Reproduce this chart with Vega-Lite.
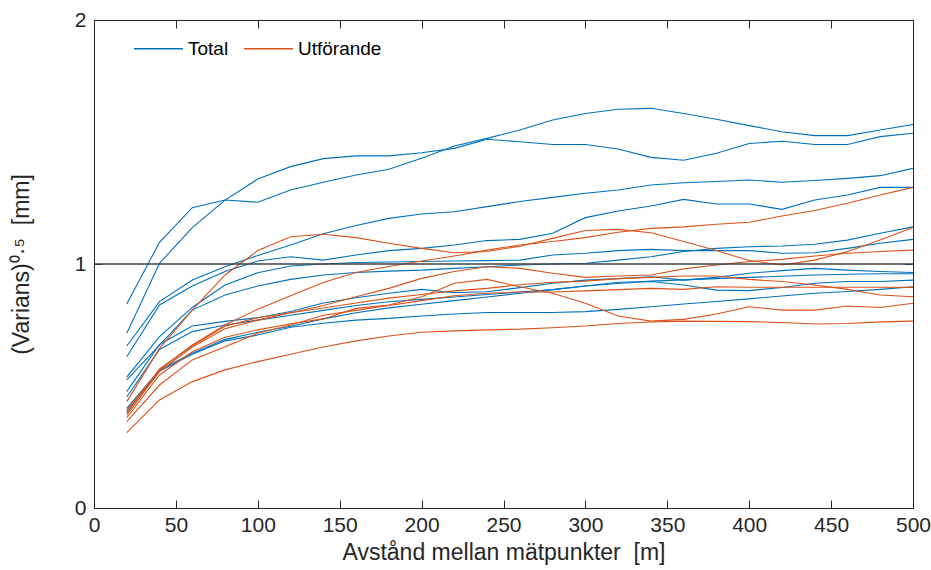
{
"$schema":"https://vega.github.io/schema/vega-lite/v6.json",
"autosize":{"type":"none"},
"width":819,"height":488,
"padding":{"left":94,"top":20,"right":18,"bottom":62},
"config":{"view":{"stroke":"#262626","strokeWidth":1},"font":"Liberation Sans",
 "axis":{"domain":false,"grid":false,"tickColor":"#262626","tickSize":-8,"tickWidth":1,"labelColor":"#262626","titleColor":"#262626","labelFont":"Liberation Sans","titleFont":"Liberation Sans","labelFontSize":21,"titleFontSize":23,"titleFontWeight":"normal","labelOverlap":false,"labelFlush":false}},
"datasets":{"pts":[
{"s":"A","g":"Total","x":20,"y":0.836},{"s":"A","g":"Total","x":40,"y":1.089},{"s":"A","g":"Total","x":60,"y":1.231},{"s":"A","g":"Total","x":80,"y":1.262},{"s":"A","g":"Total","x":100,"y":1.253},{"s":"A","g":"Total","x":120,"y":1.303},{"s":"A","g":"Total","x":140,"y":1.335},{"s":"A","g":"Total","x":160,"y":1.365},{"s":"A","g":"Total","x":180,"y":1.388},{"s":"A","g":"Total","x":200,"y":1.433},{"s":"A","g":"Total","x":220,"y":1.484},{"s":"A","g":"Total","x":240,"y":1.515},{"s":"A","g":"Total","x":260,"y":1.549},{"s":"A","g":"Total","x":280,"y":1.59},{"s":"A","g":"Total","x":300,"y":1.617},{"s":"A","g":"Total","x":320,"y":1.634},{"s":"A","g":"Total","x":340,"y":1.638},{"s":"A","g":"Total","x":360,"y":1.617},{"s":"A","g":"Total","x":380,"y":1.593},{"s":"A","g":"Total","x":400,"y":1.567},{"s":"A","g":"Total","x":420,"y":1.542},{"s":"A","g":"Total","x":440,"y":1.526},{"s":"A","g":"Total","x":460,"y":1.526},{"s":"A","g":"Total","x":480,"y":1.549},{"s":"A","g":"Total","x":500,"y":1.572},
{"s":"B","g":"Total","x":20,"y":0.716},{"s":"B","g":"Total","x":40,"y":1.003},{"s":"B","g":"Total","x":60,"y":1.149},{"s":"B","g":"Total","x":80,"y":1.262},{"s":"B","g":"Total","x":100,"y":1.348},{"s":"B","g":"Total","x":120,"y":1.399},{"s":"B","g":"Total","x":140,"y":1.432},{"s":"B","g":"Total","x":160,"y":1.443},{"s":"B","g":"Total","x":180,"y":1.443},{"s":"B","g":"Total","x":200,"y":1.456},{"s":"B","g":"Total","x":220,"y":1.474},{"s":"B","g":"Total","x":240,"y":1.511},{"s":"B","g":"Total","x":260,"y":1.501},{"s":"B","g":"Total","x":280,"y":1.49},{"s":"B","g":"Total","x":300,"y":1.49},{"s":"B","g":"Total","x":320,"y":1.471},{"s":"B","g":"Total","x":340,"y":1.437},{"s":"B","g":"Total","x":360,"y":1.425},{"s":"B","g":"Total","x":380,"y":1.454},{"s":"B","g":"Total","x":400,"y":1.494},{"s":"B","g":"Total","x":420,"y":1.503},{"s":"B","g":"Total","x":440,"y":1.49},{"s":"B","g":"Total","x":460,"y":1.49},{"s":"B","g":"Total","x":480,"y":1.522},{"s":"B","g":"Total","x":500,"y":1.536},
{"s":"C","g":"Total","x":20,"y":0.664},{"s":"C","g":"Total","x":40,"y":0.846},{"s":"C","g":"Total","x":60,"y":0.934},{"s":"C","g":"Total","x":80,"y":0.989},{"s":"C","g":"Total","x":100,"y":1.035},{"s":"C","g":"Total","x":120,"y":1.078},{"s":"C","g":"Total","x":140,"y":1.124},{"s":"C","g":"Total","x":160,"y":1.158},{"s":"C","g":"Total","x":180,"y":1.187},{"s":"C","g":"Total","x":200,"y":1.205},{"s":"C","g":"Total","x":220,"y":1.214},{"s":"C","g":"Total","x":240,"y":1.235},{"s":"C","g":"Total","x":260,"y":1.256},{"s":"C","g":"Total","x":280,"y":1.273},{"s":"C","g":"Total","x":300,"y":1.29},{"s":"C","g":"Total","x":320,"y":1.303},{"s":"C","g":"Total","x":340,"y":1.324},{"s":"C","g":"Total","x":360,"y":1.333},{"s":"C","g":"Total","x":380,"y":1.338},{"s":"C","g":"Total","x":400,"y":1.344},{"s":"C","g":"Total","x":420,"y":1.335},{"s":"C","g":"Total","x":440,"y":1.342},{"s":"C","g":"Total","x":460,"y":1.351},{"s":"C","g":"Total","x":480,"y":1.362},{"s":"C","g":"Total","x":500,"y":1.392},
{"s":"D","g":"Total","x":20,"y":0.62},{"s":"D","g":"Total","x":40,"y":0.832},{"s":"D","g":"Total","x":60,"y":0.91},{"s":"D","g":"Total","x":80,"y":0.969},{"s":"D","g":"Total","x":100,"y":1.012},{"s":"D","g":"Total","x":120,"y":1.03},{"s":"D","g":"Total","x":140,"y":1.016},{"s":"D","g":"Total","x":160,"y":1.037},{"s":"D","g":"Total","x":180,"y":1.055},{"s":"D","g":"Total","x":200,"y":1.064},{"s":"D","g":"Total","x":220,"y":1.078},{"s":"D","g":"Total","x":240,"y":1.096},{"s":"D","g":"Total","x":260,"y":1.101},{"s":"D","g":"Total","x":280,"y":1.126},{"s":"D","g":"Total","x":300,"y":1.19},{"s":"D","g":"Total","x":320,"y":1.217},{"s":"D","g":"Total","x":340,"y":1.238},{"s":"D","g":"Total","x":360,"y":1.265},{"s":"D","g":"Total","x":380,"y":1.246},{"s":"D","g":"Total","x":400,"y":1.246},{"s":"D","g":"Total","x":420,"y":1.224},{"s":"D","g":"Total","x":440,"y":1.262},{"s":"D","g":"Total","x":460,"y":1.283},{"s":"D","g":"Total","x":480,"y":1.314},{"s":"D","g":"Total","x":500,"y":1.314},
{"s":"F","g":"Total","x":20,"y":0.536},{"s":"F","g":"Total","x":40,"y":0.702},{"s":"F","g":"Total","x":60,"y":0.822},{"s":"F","g":"Total","x":80,"y":0.914},{"s":"F","g":"Total","x":100,"y":0.964},{"s":"F","g":"Total","x":120,"y":0.992},{"s":"F","g":"Total","x":140,"y":1.0},{"s":"F","g":"Total","x":160,"y":1.006},{"s":"F","g":"Total","x":180,"y":1.008},{"s":"F","g":"Total","x":200,"y":1.01},{"s":"F","g":"Total","x":220,"y":1.012},{"s":"F","g":"Total","x":240,"y":1.014},{"s":"F","g":"Total","x":260,"y":1.016},{"s":"F","g":"Total","x":280,"y":1.037},{"s":"F","g":"Total","x":300,"y":1.044},{"s":"F","g":"Total","x":320,"y":1.055},{"s":"F","g":"Total","x":340,"y":1.06},{"s":"F","g":"Total","x":360,"y":1.055},{"s":"F","g":"Total","x":380,"y":1.055},{"s":"F","g":"Total","x":400,"y":1.055},{"s":"F","g":"Total","x":420,"y":1.044},{"s":"F","g":"Total","x":440,"y":1.046},{"s":"F","g":"Total","x":460,"y":1.064},{"s":"F","g":"Total","x":480,"y":1.085},{"s":"F","g":"Total","x":500,"y":1.101},
{"s":"G","g":"Total","x":20,"y":0.525},{"s":"G","g":"Total","x":40,"y":0.668},{"s":"G","g":"Total","x":60,"y":0.811},{"s":"G","g":"Total","x":80,"y":0.873},{"s":"G","g":"Total","x":100,"y":0.91},{"s":"G","g":"Total","x":120,"y":0.937},{"s":"G","g":"Total","x":140,"y":0.955},{"s":"G","g":"Total","x":160,"y":0.965},{"s":"G","g":"Total","x":180,"y":0.971},{"s":"G","g":"Total","x":200,"y":0.975},{"s":"G","g":"Total","x":220,"y":0.982},{"s":"G","g":"Total","x":240,"y":0.989},{"s":"G","g":"Total","x":260,"y":0.996},{"s":"G","g":"Total","x":280,"y":1.0},{"s":"G","g":"Total","x":300,"y":1.003},{"s":"G","g":"Total","x":320,"y":1.016},{"s":"G","g":"Total","x":340,"y":1.03},{"s":"G","g":"Total","x":360,"y":1.051},{"s":"G","g":"Total","x":380,"y":1.064},{"s":"G","g":"Total","x":400,"y":1.071},{"s":"G","g":"Total","x":420,"y":1.074},{"s":"G","g":"Total","x":440,"y":1.081},{"s":"G","g":"Total","x":460,"y":1.098},{"s":"G","g":"Total","x":480,"y":1.126},{"s":"G","g":"Total","x":500,"y":1.152},
{"s":"I","g":"Total","x":20,"y":0.477},{"s":"I","g":"Total","x":40,"y":0.67},{"s":"I","g":"Total","x":60,"y":0.746},{"s":"I","g":"Total","x":80,"y":0.765},{"s":"I","g":"Total","x":100,"y":0.78},{"s":"I","g":"Total","x":120,"y":0.805},{"s":"I","g":"Total","x":140,"y":0.84},{"s":"I","g":"Total","x":160,"y":0.862},{"s":"I","g":"Total","x":180,"y":0.88},{"s":"I","g":"Total","x":200,"y":0.896},{"s":"I","g":"Total","x":220,"y":0.882},{"s":"I","g":"Total","x":240,"y":0.886},{"s":"I","g":"Total","x":260,"y":0.903},{"s":"I","g":"Total","x":280,"y":0.921},{"s":"I","g":"Total","x":300,"y":0.934},{"s":"I","g":"Total","x":320,"y":0.94},{"s":"I","g":"Total","x":340,"y":0.948},{"s":"I","g":"Total","x":360,"y":0.934},{"s":"I","g":"Total","x":380,"y":0.945},{"s":"I","g":"Total","x":400,"y":0.962},{"s":"I","g":"Total","x":420,"y":0.973},{"s":"I","g":"Total","x":440,"y":0.982},{"s":"I","g":"Total","x":460,"y":0.975},{"s":"I","g":"Total","x":480,"y":0.969},{"s":"I","g":"Total","x":500,"y":0.965},
{"s":"J","g":"Total","x":20,"y":0.455},{"s":"J","g":"Total","x":40,"y":0.65},{"s":"J","g":"Total","x":60,"y":0.723},{"s":"J","g":"Total","x":80,"y":0.75},{"s":"J","g":"Total","x":100,"y":0.77},{"s":"J","g":"Total","x":120,"y":0.79},{"s":"J","g":"Total","x":140,"y":0.81},{"s":"J","g":"Total","x":160,"y":0.83},{"s":"J","g":"Total","x":180,"y":0.845},{"s":"J","g":"Total","x":200,"y":0.855},{"s":"J","g":"Total","x":220,"y":0.865},{"s":"J","g":"Total","x":240,"y":0.875},{"s":"J","g":"Total","x":260,"y":0.885},{"s":"J","g":"Total","x":280,"y":0.895},{"s":"J","g":"Total","x":300,"y":0.91},{"s":"J","g":"Total","x":320,"y":0.925},{"s":"J","g":"Total","x":340,"y":0.928},{"s":"J","g":"Total","x":360,"y":0.914},{"s":"J","g":"Total","x":380,"y":0.893},{"s":"J","g":"Total","x":400,"y":0.891},{"s":"J","g":"Total","x":420,"y":0.904},{"s":"J","g":"Total","x":440,"y":0.921},{"s":"J","g":"Total","x":460,"y":0.928},{"s":"J","g":"Total","x":480,"y":0.928},{"s":"J","g":"Total","x":500,"y":0.934},
{"s":"K","g":"Total","x":20,"y":0.408},{"s":"K","g":"Total","x":40,"y":0.566},{"s":"K","g":"Total","x":60,"y":0.634},{"s":"K","g":"Total","x":80,"y":0.691},{"s":"K","g":"Total","x":100,"y":0.72},{"s":"K","g":"Total","x":120,"y":0.745},{"s":"K","g":"Total","x":140,"y":0.775},{"s":"K","g":"Total","x":160,"y":0.8},{"s":"K","g":"Total","x":180,"y":0.82},{"s":"K","g":"Total","x":200,"y":0.835},{"s":"K","g":"Total","x":220,"y":0.85},{"s":"K","g":"Total","x":240,"y":0.865},{"s":"K","g":"Total","x":260,"y":0.88},{"s":"K","g":"Total","x":280,"y":0.895},{"s":"K","g":"Total","x":300,"y":0.91},{"s":"K","g":"Total","x":320,"y":0.92},{"s":"K","g":"Total","x":340,"y":0.93},{"s":"K","g":"Total","x":360,"y":0.935},{"s":"K","g":"Total","x":380,"y":0.94},{"s":"K","g":"Total","x":400,"y":0.945},{"s":"K","g":"Total","x":420,"y":0.95},{"s":"K","g":"Total","x":440,"y":0.955},{"s":"K","g":"Total","x":460,"y":0.958},{"s":"K","g":"Total","x":480,"y":0.96},{"s":"K","g":"Total","x":500,"y":0.96},
{"s":"L","g":"Total","x":20,"y":0.395},{"s":"L","g":"Total","x":40,"y":0.56},{"s":"L","g":"Total","x":60,"y":0.63},{"s":"L","g":"Total","x":80,"y":0.685},{"s":"L","g":"Total","x":100,"y":0.709},{"s":"L","g":"Total","x":120,"y":0.741},{"s":"L","g":"Total","x":140,"y":0.757},{"s":"L","g":"Total","x":160,"y":0.77},{"s":"L","g":"Total","x":180,"y":0.777},{"s":"L","g":"Total","x":200,"y":0.787},{"s":"L","g":"Total","x":220,"y":0.795},{"s":"L","g":"Total","x":240,"y":0.801},{"s":"L","g":"Total","x":260,"y":0.801},{"s":"L","g":"Total","x":280,"y":0.801},{"s":"L","g":"Total","x":300,"y":0.805},{"s":"L","g":"Total","x":320,"y":0.814},{"s":"L","g":"Total","x":340,"y":0.825},{"s":"L","g":"Total","x":360,"y":0.836},{"s":"L","g":"Total","x":380,"y":0.846},{"s":"L","g":"Total","x":400,"y":0.857},{"s":"L","g":"Total","x":420,"y":0.869},{"s":"L","g":"Total","x":440,"y":0.88},{"s":"L","g":"Total","x":460,"y":0.887},{"s":"L","g":"Total","x":480,"y":0.896},{"s":"L","g":"Total","x":500,"y":0.907},
{"s":"OA","g":"Utförande","x":20,"y":0.436},{"s":"OA","g":"Utförande","x":40,"y":0.654},{"s":"OA","g":"Utförande","x":60,"y":0.811},{"s":"OA","g":"Utförande","x":80,"y":0.955},{"s":"OA","g":"Utförande","x":100,"y":1.055},{"s":"OA","g":"Utförande","x":120,"y":1.112},{"s":"OA","g":"Utförande","x":140,"y":1.122},{"s":"OA","g":"Utförande","x":160,"y":1.108},{"s":"OA","g":"Utförande","x":180,"y":1.085},{"s":"OA","g":"Utförande","x":200,"y":1.064},{"s":"OA","g":"Utförande","x":220,"y":1.046},{"s":"OA","g":"Utförande","x":240,"y":1.051},{"s":"OA","g":"Utförande","x":260,"y":1.073},{"s":"OA","g":"Utförande","x":280,"y":1.105},{"s":"OA","g":"Utförande","x":300,"y":1.137},{"s":"OA","g":"Utförande","x":320,"y":1.142},{"s":"OA","g":"Utförande","x":340,"y":1.128},{"s":"OA","g":"Utförande","x":360,"y":1.092},{"s":"OA","g":"Utförande","x":380,"y":1.055},{"s":"OA","g":"Utförande","x":400,"y":1.014},{"s":"OA","g":"Utförande","x":420,"y":0.996},{"s":"OA","g":"Utförande","x":440,"y":1.016},{"s":"OA","g":"Utförande","x":460,"y":1.051},{"s":"OA","g":"Utförande","x":480,"y":1.098},{"s":"OA","g":"Utförande","x":500,"y":1.15},
{"s":"OB","g":"Utförande","x":20,"y":0.402},{"s":"OB","g":"Utförande","x":40,"y":0.566},{"s":"OB","g":"Utförande","x":60,"y":0.668},{"s":"OB","g":"Utförande","x":80,"y":0.75},{"s":"OB","g":"Utförande","x":100,"y":0.815},{"s":"OB","g":"Utförande","x":120,"y":0.87},{"s":"OB","g":"Utförande","x":140,"y":0.924},{"s":"OB","g":"Utförande","x":160,"y":0.965},{"s":"OB","g":"Utförande","x":180,"y":0.99},{"s":"OB","g":"Utförande","x":200,"y":1.012},{"s":"OB","g":"Utförande","x":220,"y":1.033},{"s":"OB","g":"Utförande","x":240,"y":1.057},{"s":"OB","g":"Utförande","x":260,"y":1.078},{"s":"OB","g":"Utförande","x":280,"y":1.092},{"s":"OB","g":"Utförande","x":300,"y":1.108},{"s":"OB","g":"Utförande","x":320,"y":1.13},{"s":"OB","g":"Utförande","x":340,"y":1.146},{"s":"OB","g":"Utförande","x":360,"y":1.152},{"s":"OB","g":"Utförande","x":380,"y":1.163},{"s":"OB","g":"Utförande","x":400,"y":1.171},{"s":"OB","g":"Utförande","x":420,"y":1.197},{"s":"OB","g":"Utförande","x":440,"y":1.219},{"s":"OB","g":"Utförande","x":460,"y":1.249},{"s":"OB","g":"Utförande","x":480,"y":1.283},{"s":"OB","g":"Utförande","x":500,"y":1.314},
{"s":"OC","g":"Utförande","x":20,"y":0.37},{"s":"OC","g":"Utförande","x":40,"y":0.545},{"s":"OC","g":"Utförande","x":60,"y":0.64},{"s":"OC","g":"Utförande","x":80,"y":0.7},{"s":"OC","g":"Utförande","x":100,"y":0.73},{"s":"OC","g":"Utförande","x":120,"y":0.755},{"s":"OC","g":"Utförande","x":140,"y":0.775},{"s":"OC","g":"Utförande","x":160,"y":0.818},{"s":"OC","g":"Utförande","x":180,"y":0.832},{"s":"OC","g":"Utförande","x":200,"y":0.866},{"s":"OC","g":"Utförande","x":220,"y":0.921},{"s":"OC","g":"Utförande","x":240,"y":0.937},{"s":"OC","g":"Utförande","x":260,"y":0.907},{"s":"OC","g":"Utförande","x":280,"y":0.88},{"s":"OC","g":"Utförande","x":300,"y":0.839},{"s":"OC","g":"Utförande","x":320,"y":0.787},{"s":"OC","g":"Utförande","x":340,"y":0.766},{"s":"OC","g":"Utförande","x":360,"y":0.773},{"s":"OC","g":"Utförande","x":380,"y":0.795},{"s":"OC","g":"Utförande","x":400,"y":0.825},{"s":"OC","g":"Utförande","x":420,"y":0.811},{"s":"OC","g":"Utförande","x":440,"y":0.811},{"s":"OC","g":"Utförande","x":460,"y":0.828},{"s":"OC","g":"Utförande","x":480,"y":0.822},{"s":"OC","g":"Utförande","x":500,"y":0.839},
{"s":"OD","g":"Utförande","x":20,"y":0.388},{"s":"OD","g":"Utförande","x":40,"y":0.57},{"s":"OD","g":"Utförande","x":60,"y":0.665},{"s":"OD","g":"Utförande","x":80,"y":0.745},{"s":"OD","g":"Utförande","x":100,"y":0.78},{"s":"OD","g":"Utförande","x":120,"y":0.8},{"s":"OD","g":"Utförande","x":140,"y":0.83},{"s":"OD","g":"Utförande","x":160,"y":0.866},{"s":"OD","g":"Utförande","x":180,"y":0.9},{"s":"OD","g":"Utförande","x":200,"y":0.941},{"s":"OD","g":"Utförande","x":220,"y":0.969},{"s":"OD","g":"Utförande","x":240,"y":0.989},{"s":"OD","g":"Utförande","x":260,"y":0.982},{"s":"OD","g":"Utförande","x":280,"y":0.962},{"s":"OD","g":"Utförande","x":300,"y":0.945},{"s":"OD","g":"Utförande","x":320,"y":0.951},{"s":"OD","g":"Utförande","x":340,"y":0.955},{"s":"OD","g":"Utförande","x":360,"y":0.98},{"s":"OD","g":"Utförande","x":380,"y":0.996},{"s":"OD","g":"Utförande","x":400,"y":1.01},{"s":"OD","g":"Utförande","x":420,"y":1.019},{"s":"OD","g":"Utförande","x":440,"y":1.033},{"s":"OD","g":"Utförande","x":460,"y":1.044},{"s":"OD","g":"Utförande","x":480,"y":1.051},{"s":"OD","g":"Utförande","x":500,"y":1.057},
{"s":"OE","g":"Utförande","x":20,"y":0.38},{"s":"OE","g":"Utförande","x":40,"y":0.56},{"s":"OE","g":"Utförande","x":60,"y":0.66},{"s":"OE","g":"Utförande","x":80,"y":0.735},{"s":"OE","g":"Utförande","x":100,"y":0.77},{"s":"OE","g":"Utförande","x":120,"y":0.8},{"s":"OE","g":"Utförande","x":140,"y":0.82},{"s":"OE","g":"Utförande","x":160,"y":0.84},{"s":"OE","g":"Utförande","x":180,"y":0.86},{"s":"OE","g":"Utförande","x":200,"y":0.875},{"s":"OE","g":"Utförande","x":220,"y":0.89},{"s":"OE","g":"Utförande","x":240,"y":0.9},{"s":"OE","g":"Utförande","x":260,"y":0.915},{"s":"OE","g":"Utförande","x":280,"y":0.925},{"s":"OE","g":"Utförande","x":300,"y":0.93},{"s":"OE","g":"Utförande","x":320,"y":0.94},{"s":"OE","g":"Utförande","x":340,"y":0.945},{"s":"OE","g":"Utförande","x":360,"y":0.951},{"s":"OE","g":"Utförande","x":380,"y":0.951},{"s":"OE","g":"Utförande","x":400,"y":0.937},{"s":"OE","g":"Utförande","x":420,"y":0.928},{"s":"OE","g":"Utförande","x":440,"y":0.914},{"s":"OE","g":"Utförande","x":460,"y":0.896},{"s":"OE","g":"Utförande","x":480,"y":0.873},{"s":"OE","g":"Utförande","x":500,"y":0.866},
{"s":"OF","g":"Utförande","x":20,"y":0.354},{"s":"OF","g":"Utförande","x":40,"y":0.504},{"s":"OF","g":"Utförande","x":60,"y":0.607},{"s":"OF","g":"Utförande","x":80,"y":0.661},{"s":"OF","g":"Utförande","x":100,"y":0.716},{"s":"OF","g":"Utförande","x":120,"y":0.75},{"s":"OF","g":"Utförande","x":140,"y":0.79},{"s":"OF","g":"Utförande","x":160,"y":0.81},{"s":"OF","g":"Utförande","x":180,"y":0.83},{"s":"OF","g":"Utförande","x":200,"y":0.85},{"s":"OF","g":"Utförande","x":220,"y":0.87},{"s":"OF","g":"Utförande","x":240,"y":0.88},{"s":"OF","g":"Utförande","x":260,"y":0.885},{"s":"OF","g":"Utförande","x":280,"y":0.885},{"s":"OF","g":"Utförande","x":300,"y":0.89},{"s":"OF","g":"Utförande","x":320,"y":0.895},{"s":"OF","g":"Utförande","x":340,"y":0.9},{"s":"OF","g":"Utförande","x":360,"y":0.896},{"s":"OF","g":"Utförande","x":380,"y":0.907},{"s":"OF","g":"Utförande","x":400,"y":0.905},{"s":"OF","g":"Utförande","x":420,"y":0.905},{"s":"OF","g":"Utförande","x":440,"y":0.905},{"s":"OF","g":"Utförande","x":460,"y":0.905},{"s":"OF","g":"Utförande","x":480,"y":0.905},{"s":"OF","g":"Utförande","x":500,"y":0.904},
{"s":"OL","g":"Utförande","x":20,"y":0.309},{"s":"OL","g":"Utförande","x":40,"y":0.443},{"s":"OL","g":"Utförande","x":60,"y":0.518},{"s":"OL","g":"Utförande","x":80,"y":0.566},{"s":"OL","g":"Utförande","x":100,"y":0.6},{"s":"OL","g":"Utförande","x":120,"y":0.63},{"s":"OL","g":"Utförande","x":140,"y":0.66},{"s":"OL","g":"Utförande","x":160,"y":0.685},{"s":"OL","g":"Utförande","x":180,"y":0.705},{"s":"OL","g":"Utförande","x":200,"y":0.72},{"s":"OL","g":"Utförande","x":220,"y":0.726},{"s":"OL","g":"Utförande","x":240,"y":0.73},{"s":"OL","g":"Utförande","x":260,"y":0.733},{"s":"OL","g":"Utförande","x":280,"y":0.739},{"s":"OL","g":"Utförande","x":300,"y":0.746},{"s":"OL","g":"Utförande","x":320,"y":0.756},{"s":"OL","g":"Utförande","x":340,"y":0.762},{"s":"OL","g":"Utförande","x":360,"y":0.766},{"s":"OL","g":"Utförande","x":380,"y":0.765},{"s":"OL","g":"Utförande","x":400,"y":0.764},{"s":"OL","g":"Utförande","x":420,"y":0.76},{"s":"OL","g":"Utförande","x":440,"y":0.754},{"s":"OL","g":"Utförande","x":460,"y":0.756},{"s":"OL","g":"Utförande","x":480,"y":0.763},{"s":"OL","g":"Utförande","x":500,"y":0.766}
],
"ref":[{"v":1}]},
"layer":[
 {"data":{"name":"pts"},
  "mark":{"type":"line","strokeWidth":1.1},
  "encoding":{
   "x":{"field":"x","type":"quantitative","scale":{"domain":[0,500],"nice":false},
        "axis":{"orient":"bottom","values":[0,50,100,150,200,250,300,350,400,450,500],"tickCount":11,"labelExpr":"datum.value + ''","labelOverlap":false,"labelFontSize":21,"titleFontSize":23,"title":"Avstånd mellan mätpunkter \u00a0[m]","labelPadding":14,"titlePadding":6}},
   "y":{"field":"y","type":"quantitative","scale":{"domain":[0,2],"nice":false},
        "axis":{"orient":"left","values":[0,1,2],"tickCount":3,"labelExpr":"datum.value + ''","labelOverlap":false,"labelFlush":false,"labelFontSize":21,"titleFontSize":23,"title":"(Varians)⁰·⁵ \u00a0[mm]","labelPadding":16,"titlePadding":41}},
   "color":{"field":"g","type":"nominal","scale":{"domain":["Total","Utförande"],"range":["#0072BD","#D95319"]},
     "legend":{"orient":"none","legendX":39,"legendY":3,"direction":"horizontal","title":null,"symbolType":"stroke","symbolSize":2400,"symbolStrokeWidth":1.3,"labelFontSize":19,"labelColor":"#000000","labelFont":"Liberation Sans","labelOffset":4,"columnPadding":12}},
   "detail":{"field":"s"}}},
 {"data":{"name":"ref"},
  "mark":{"type":"rule","stroke":"#404040","strokeWidth":1.6},
  "encoding":{"y":{"field":"v","type":"quantitative","scale":{"domain":[0,2],"nice":false},"axis":{"orient":"right","values":[0,1,2],"tickCount":3,"labels":false,"title":null}}}},
 {"data":{"name":"pts"},
  "mark":{"type":"point","opacity":0},
  "encoding":{
   "x":{"field":"x","type":"quantitative","scale":{"domain":[0,500],"nice":false},"axis":{"orient":"top","values":[0,50,100,150,200,250,300,350,400,450,500],"tickCount":11,"labels":false,"title":null}}}}
],
"resolve":{"axis":{"x":"independent","y":"independent"}}
}
